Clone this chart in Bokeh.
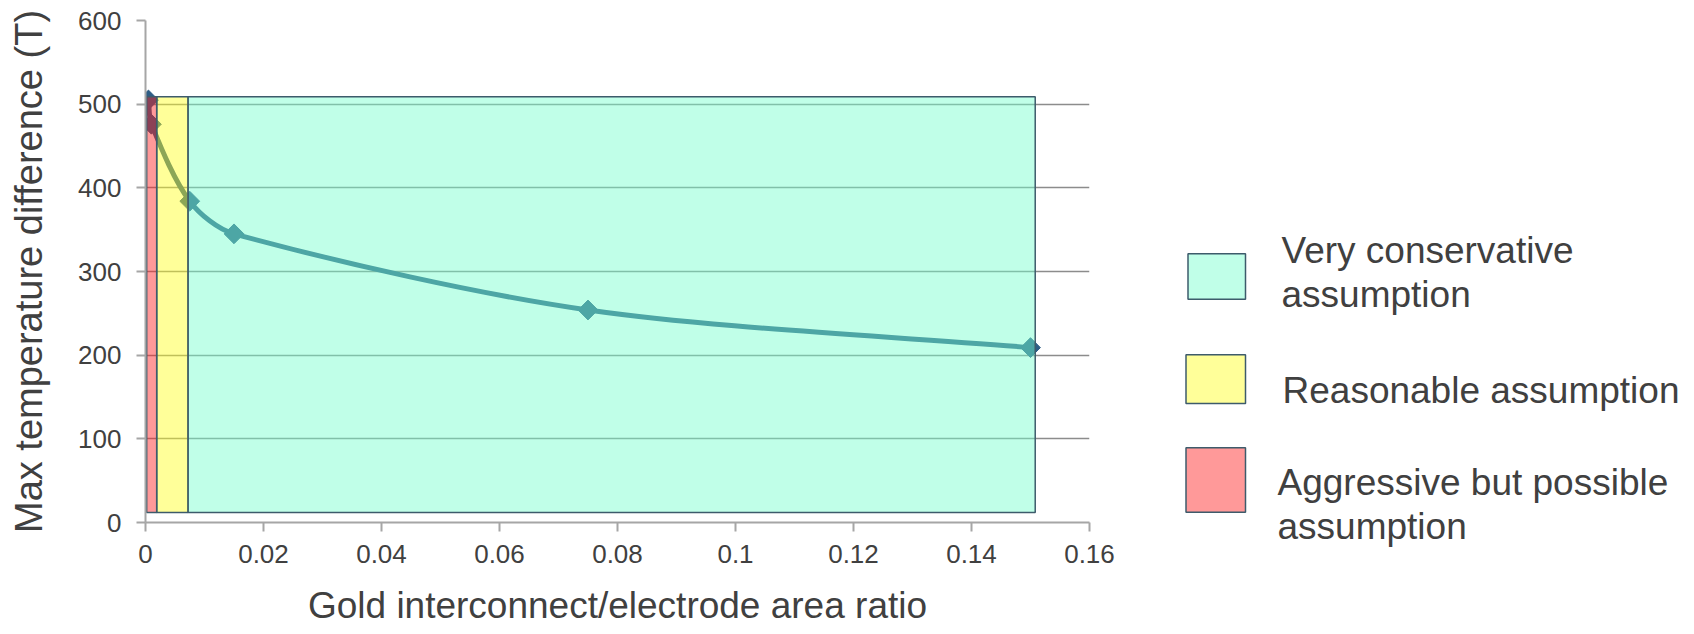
import math
import numpy as np
from bokeh.plotting import figure
from bokeh.layouts import row
from bokeh.models import Range1d, FixedTicker, NumeralTickFormatter, ColumnDataSource
from bokeh.core.properties import value
from bokeh.embed import file_html
from bokeh.resources import INLINE

# ---------------- data ----------------
x_ratio = [0.0005, 0.001, 0.0075, 0.015, 0.075, 0.15]
max_dT = [505, 476, 384, 345, 254, 209]

zone_labels = ["Very conservative\nassumption",
               "Reasonable assumption",
               "Aggressive but possible\nassumption"]
zone_left = [0.0072, 0.0019, 0.0002]
zone_right = [0.1508, 0.0072, 0.0019]
zone_bottom = [12, 12, 12]
zone_top = [509, 509, 509]
zone_colors = ["#73ffcc", "#ffff1c", "#ff1c1c"]

x_ticks = [0, 0.02, 0.04, 0.06, 0.08, 0.1, 0.12, 0.14, 0.16]
y_ticks = [0, 100, 200, 300, 400, 500, 600]

# ---------------- styling constants ----------------
X0, X1, Y0, Y1 = 0, 0.16, 0, 600
FW, FH = 944, 502
LEFT, TOP = 145, 20
MAIN_W, H = 1150, 634
TEXT = "#404040"
FONT = "Liberation Sans"
LINE = "#2e5d85"
EDGE = "#3d5b6b"
ALPHA = 0.45

p = figure(width=MAIN_W, height=H, output_backend="svg", toolbar_location=None,
           x_range=Range1d(X0, X1), y_range=Range1d(Y0, Y1),
           min_border_left=LEFT, min_border_right=MAIN_W - LEFT - FW,
           min_border_top=TOP, min_border_bottom=H - TOP - FH)
p.frame_align = False
p.outline_line_color = None
p.background_fill_color = "white"
p.border_fill_color = "white"

p.xgrid.grid_line_color = None
p.ygrid.grid_line_color = "#8c8c8c"
p.ygrid.grid_line_width = 1.5
p.ygrid.ticker = FixedTicker(ticks=y_ticks)

p.xaxis.ticker = FixedTicker(ticks=x_ticks)
p.xaxis.formatter = NumeralTickFormatter(format="0.[00]")
p.yaxis.ticker = FixedTicker(ticks=y_ticks)

for ax in (p.xaxis, p.yaxis):
    ax.axis_line_color = "#a6a6a6"
    ax.axis_line_width = 2
    ax.major_tick_line_color = "#a6a6a6"
    ax.major_tick_line_width = 2
    ax.major_tick_out = 9
    ax.major_tick_in = 0
    ax.minor_tick_line_color = None
    ax.major_label_text_font = FONT
    ax.major_label_text_font_size = "26px"
    ax.major_label_text_color = TEXT
    ax.axis_label_text_font = FONT
    ax.axis_label_text_font_style = "normal"
    ax.axis_label_text_color = TEXT

p.xaxis.axis_label = "Gold interconnect/electrode area ratio"
p.xaxis.axis_label_text_font_size = "37px"
p.xaxis.major_label_standoff = 13
p.xaxis.axis_label_standoff = 19
p.yaxis.axis_label = "Max temperature difference (T)"
p.yaxis.axis_label_text_font_size = "38px"
p.yaxis.major_label_standoff = 15
p.yaxis.axis_label_standoff = 25

# ---------------- smooth line (bezier through the data points) ----------------
kx = FW / (X1 - X0)
ky = FH / (Y1 - Y0)
px = np.array(x_ratio) * kx
py = np.array(max_dT) * ky
n = len(px)
tx, ty = [], []
for i in range(n):
    a, b = max(i - 1, 0), min(i + 1, n - 1)
    dx, dy = px[b] - px[a], py[b] - py[a]
    L = math.hypot(dx, dy)
    tx.append(dx / L)
    ty.append(dy / L)
tension = 0.3
seg = dict(x0=[], y0=[], x1=[], y1=[], cx0=[], cy0=[], cx1=[], cy1=[])
for i in range(n - 1):
    L = math.hypot(px[i + 1] - px[i], py[i + 1] - py[i]) * tension
    seg["x0"].append(x_ratio[i]); seg["y0"].append(max_dT[i])
    seg["x1"].append(x_ratio[i + 1]); seg["y1"].append(max_dT[i + 1])
    seg["cx0"].append((px[i] + tx[i] * L) / kx); seg["cy0"].append((py[i] + ty[i] * L) / ky)
    seg["cx1"].append((px[i + 1] - tx[i + 1] * L) / kx); seg["cy1"].append((py[i + 1] - ty[i + 1] * L) / ky)

p.bezier(x0="x0", y0="y0", x1="x1", y1="y1", cx0="cx0", cy0="cy0", cx1="cx1", cy1="cy1",
         source=ColumnDataSource(seg), line_color=LINE, line_width=5, line_cap="round")
p.scatter(x_ratio, max_dT, marker="square", angle=45, angle_units="deg", size=14,
          fill_color=LINE, line_color=LINE)

# ---------------- assumption zones (semi-transparent overlay) ----------------
zsrc = ColumnDataSource(dict(left=zone_left, right=zone_right, bottom=zone_bottom,
                             top=zone_top, color=zone_colors))
p.quad(left="left", right="right", bottom="bottom", top="top", source=zsrc,
       fill_color="color", fill_alpha=ALPHA, line_color=EDGE, line_width=1.5)

# ---------------- legend panel (pixel coordinates, y downwards) ----------------
LEG_W = 1694 - MAIN_W
lg = figure(width=LEG_W, height=H, output_backend="svg", toolbar_location=None,
            title=None, x_range=Range1d(MAIN_W, 1694), y_range=Range1d(H, 0),
            x_axis_location=None, y_axis_location=None,
            min_border=0, min_border_left=0, min_border_right=0,
            min_border_top=0, min_border_bottom=0)
lg.frame_align = False
lg.outline_line_color = None
lg.grid.visible = False
lg.background_fill_color = "white"
lg.border_fill_color = "white"

sw_left = [1187.5, 1185.5, 1185.5]
sw_right = [1245, 1245, 1245]
sw_top = [253.3, 354.3, 447.3]
sw_bottom = [298.7, 403, 511.7]
lg.quad(left=sw_left, right=sw_right, top=sw_top, bottom=sw_bottom,
        fill_color=zone_colors, fill_alpha=ALPHA, line_color=EDGE, line_width=1.5)

txt_x = [1281, 1282, 1277]
txt_y = [250, 389.5, 481.7]
LINE_GAP = 44
lx, ly, lt = [], [], []
for i, lab in enumerate(zone_labels):
    for j, part in enumerate(lab.split("\n")):
        lx.append(txt_x[i]); ly.append(txt_y[i] + j * LINE_GAP); lt.append(part)
lg.text(x=lx, y=ly, text=lt, text_font=value(FONT), text_font_size="37px",
        text_color=TEXT, text_baseline="alphabetic", text_align="left")

layout = row(p, lg, spacing=0)
open("out.html", "w").write(file_html(layout, INLINE))
